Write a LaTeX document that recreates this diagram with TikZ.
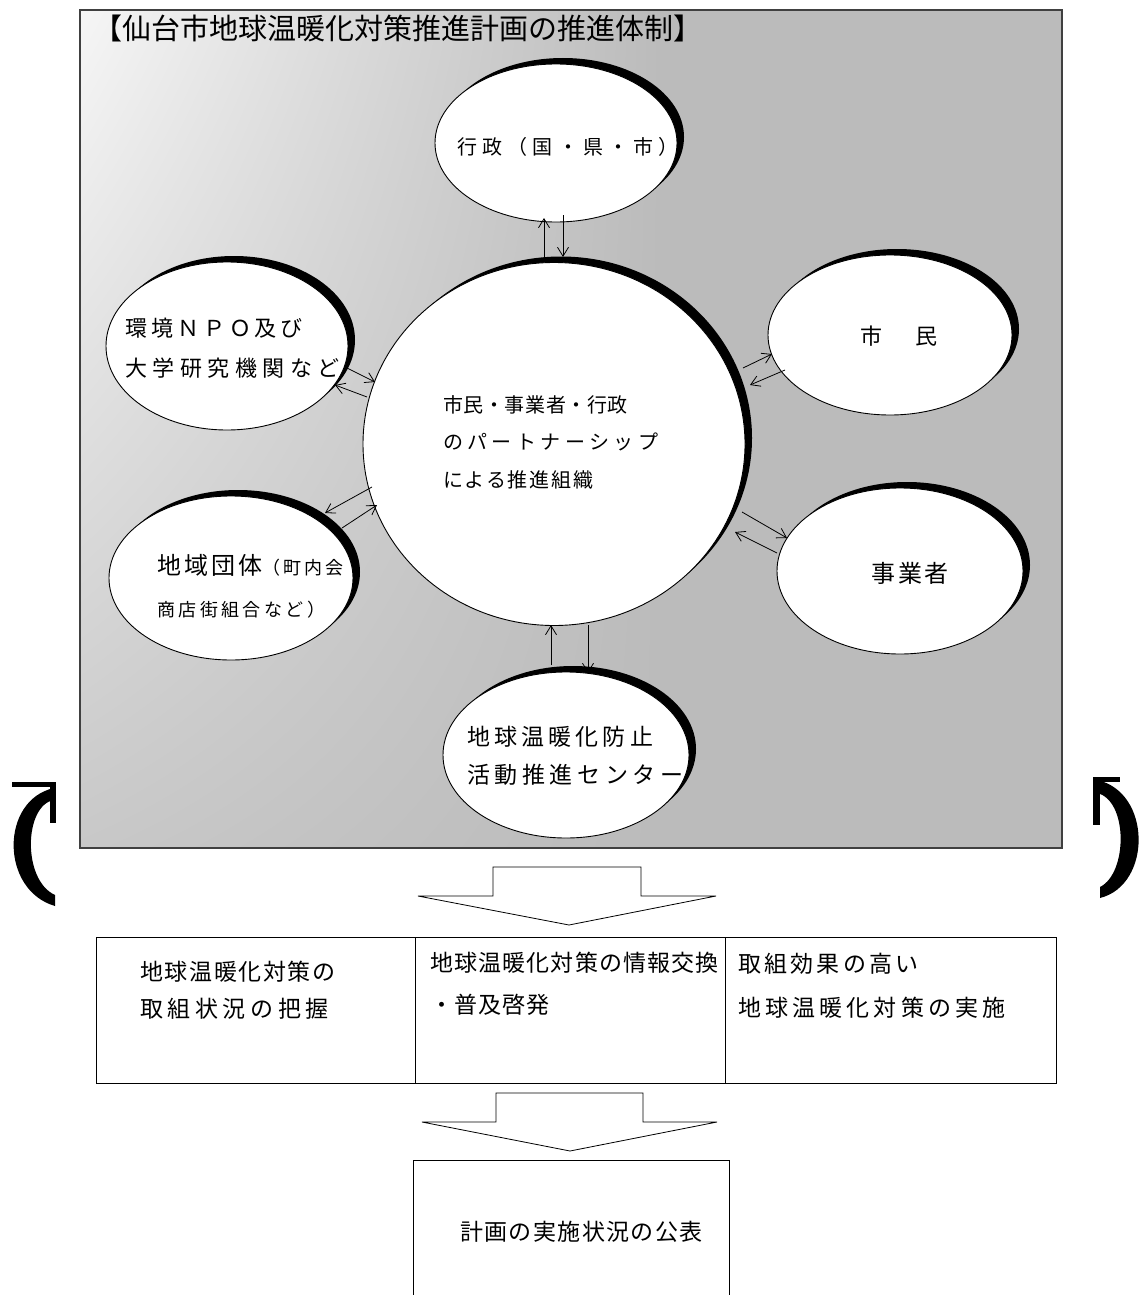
\documentclass[tikz,border=0pt]{standalone}
\usepackage{fontspec}
\setmainfont{Noto Sans CJK JP}
\usetikzlibrary{arrows.meta,shadows,shapes.geometric,shadings}
\definecolor{boxgray}{RGB}{187,187,187}
\definecolor{palegray}{RGB}{246,246,246}
\definecolor{lowgray}{RGB}{200,200,200}
\newcommand{\fs}[2]{\fontsize{#1pt}{#2pt}\selectfont}
\newcommand{\lsp}[1]{\addfontfeature{LetterSpace=#1}}
\begin{document}
\begin{tikzpicture}[x=1pt,y=-1pt,
  bub/.style={ellipse, draw=black, line width=0.9pt, fill=white, inner sep=0pt,
    drop shadow={shadow xshift=7pt, shadow yshift=6pt, fill=black, opacity=1, draw=none}},
  lbl/.style={anchor=west, inner sep=0pt, align=left},
  link/.style={-{Straight Barb[length=9pt,width=11pt]}, line width=0.8pt},
  cell/.style={draw=black, line width=0.9pt, inner sep=0pt, anchor=north west},
  blockarrow/.style={draw=black, fill=white, line width=0.8pt},
  arcfill/.style={fill=black}]

\useasboundingbox (0,0) rectangle (1141,1295);
\fill[white] (0,0) rectangle (1141,1295);

% gray panel
\shade[upper left=palegray, upper right=boxgray, lower left=lowgray, lower right=boxgray] (80,10) rectangle (661,848);
\fill[boxgray] (660,10) rectangle (1062,848);
\node[draw=black!75, line width=1.2pt, minimum width=982pt, minimum height=838pt, inner sep=0pt] (panel) at (571,429) {};

\node[lbl, font={\fs{29}{29}}] (title) at (93,28) {【仙台市地球温暖化対策推進計画の推進体制】};

% ellipses
\node[bub, minimum width=242pt, minimum height=158pt] (gyosei) at (556,143) {};
\node[bub, minimum width=242pt, minimum height=168pt] (npo) at (227,346) {};
\node[bub, minimum width=244pt, minimum height=160pt] (shimin) at (890,335) {};
\node[bub, minimum width=382pt, minimum height=363pt] (center) at (554,444) {};
\node[bub, minimum width=246pt, minimum height=166pt] (jigyo) at (900,571) {};
\node[bub, minimum width=244pt, minimum height=164pt] (chiiki) at (231,578) {};
\node[bub, minimum width=246pt, minimum height=166pt] (boshi) at (566,755) {};

% connector end points
\coordinate (cg1) at (544,257); \coordinate (gc1) at (544,218);
\coordinate (gc2) at (563,215); \coordinate (cg2) at (563,257);
\coordinate (nc1) at (345,367); \coordinate (cn1) at (375,382);
\coordinate (cn2) at (367,397); \coordinate (nc2) at (335,385);
\coordinate (cs1) at (743,368); \coordinate (sc1) at (772,354);
\coordinate (sc2) at (785,370); \coordinate (cs2) at (750,385);
\coordinate (ck1) at (372,487); \coordinate (kc1) at (325,513);
\coordinate (kc2) at (342,528); \coordinate (ck2) at (377,505);
\coordinate (cj1) at (742,512); \coordinate (jc1) at (787,538);
\coordinate (jc2) at (777,553); \coordinate (cj2) at (735,532);
\coordinate (bc1) at (551,665); \coordinate (cb1) at (551,625);
\coordinate (cb2) at (588,625); \coordinate (bc2) at (588,673);

\draw[link] (cg1) -- (gc1);
\draw[link] (gc2) -- (cg2);
\draw[link] (nc1) -- (cn1);
\draw[link] (cn2) -- (nc2);
\draw[link] (cs1) -- (sc1);
\draw[link] (sc2) -- (cs2);
\draw[link] (ck1) -- (kc1);
\draw[link] (kc2) -- (ck2);
\draw[link] (cj1) -- (jc1);
\draw[link] (jc2) -- (cj2);
\draw[link] (bc1) -- (cb1);
\draw[link] (cb2) -- (bc2);

% ellipse texts
\node[lbl, font={\fs{20}{20}}] (tgyosei) at (457,147) {\lsp{26}行政（国・県・市）};
\node[lbl, font={\fs{22}{40}}] (tnpo) at (125,348) {{\lsp{18}環境ＮＰＯ及び}\\{\lsp{25}大学研究機関など}};
\node[lbl, font={\fs{22}{22}}] (tshimin) at (860,336) {市\hspace{33pt}民};
\node[lbl, font={\fs{20}{37.5}}] (tcenter) at (443,442) {{\lsp{3}市民・事業者・行政}\\{\lsp{22}のパートナーシップ}\\{\lsp{9}による推進組織}};
\node[lbl, font={\fs{24}{24}}] (tjigyo) at (871,573) {\lsp{12}事業者};
\node[lbl, font={\fs{18}{42}}] (tchiiki) at (157,586) {{\fs{24}{42}\lsp{12.5}地域団体}{\lsp{17}（町内会}\\{\lsp{19}商店街組合など）}};
\node[lbl, font={\fs{23}{38}}] (tboshi) at (467,756) {{\lsp{18}地球温暖化防止}\\{\lsp{20}活動推進センター}};

% side curved arrows
\fill[arcfill] (12,782) rectangle (54,787);
\fill[arcfill] (50,782) rectangle (56,823);
\fill[arcfill] (54,788) .. controls (0,800) and (0,890) .. (55,906) -- (55,895)
  .. controls (22,880) and (24,805) .. (54,800) -- cycle;
\fill[arcfill] (1093,777) rectangle (1120,782);
\fill[arcfill] (1093,777) rectangle (1100,825);
\fill[arcfill] (1097,780) .. controls (1152,792) and (1152,885) .. (1100,898) -- (1100,887)
  .. controls (1128,873) and (1128,800) .. (1097,793) -- cycle;

% block arrows
\draw[blockarrow] (493,867) -- (641,867) -- (641,896) -- (716,896) -- (569,925) -- (418,896) -- (493,896) -- cycle;
\draw[blockarrow] (496,1093) -- (643,1093) -- (643,1122) -- (717,1122) -- (570,1151) -- (422,1122) -- (496,1122) -- cycle;

% lower boxes
\node[cell, minimum width=319pt, minimum height=146pt] (c1) at (96,937) {};
\node[cell, minimum width=310pt, minimum height=146pt] (c2) at (415,937) {};
\node[cell, minimum width=331pt, minimum height=146pt] (c3) at (725,937) {};
\node[lbl, font={\fs{23}{37}}] (t1) at (140,990) {{\lsp{7}地球温暖化対策の}\\{\lsp{20}取組状況の把握}};
\node[lbl, font={\fs{23}{42}}] (t2) at (430,983.5) {{\lsp{5}地球温暖化対策の情報交換}\\{\lsp{5}・普及啓発}};
\node[lbl, font={\fs{23}{44}}] (t3) at (738,985.5) {{\lsp{14}取組効果の高い}\\{\lsp{18}地球温暖化対策の実施}};

% final box
\draw[line width=0.9pt] (413,1300) -- (413,1160) -- (729,1160) -- (729,1300);
\coordinate (finalc) at (571,1230);
\node[lbl, font={\fs{23}{23}}] (t4) at (460,1232) {\lsp{6}計画の実施状況の公表};
\end{tikzpicture}
\end{document}
